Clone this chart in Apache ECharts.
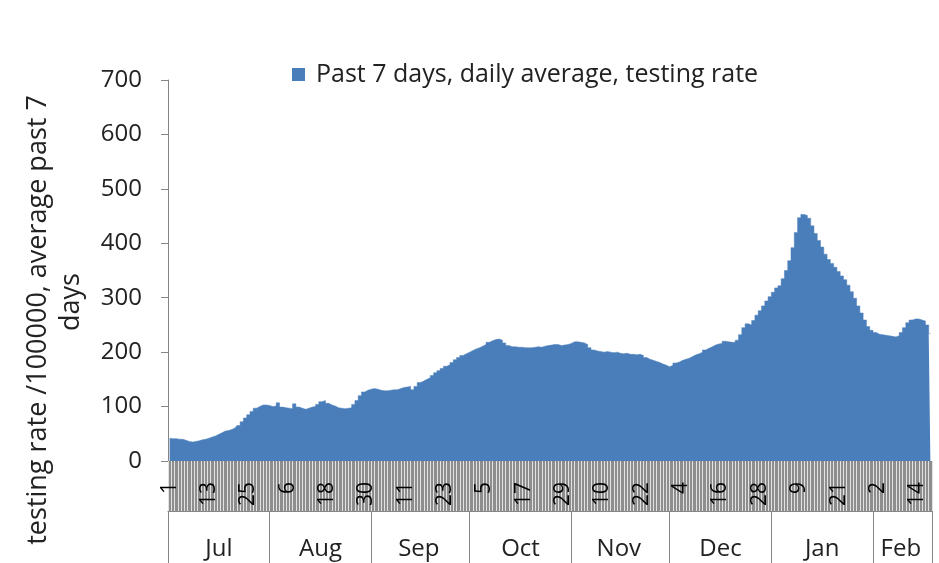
<!DOCTYPE html>
<html><head><meta charset="utf-8">
<script src="https://cdn.jsdelivr.net/npm/echarts@6/dist/echarts.min.js"></script>
<style>html,body{margin:0;padding:0;background:#fff}#c{width:939px;height:563px}</style>
</head><body><div id="c"></div>
<script>
// ---- data ----
const startDate = [2020, 6, 1]; // 1 Jul 2020 (year, monthIndex, day)
const monthNames = ['Jul','Aug','Sep','Oct','Nov','Dec','Jan','Feb'];
const yTicks = [0, 100, 200, 300, 400, 500, 600, 700];
const legendName = 'Past 7 days, daily average, testing rate';
const yTitle = ['testing rate /100000, average past 7', 'days'];
const testingRate = [
 42,41,41,40,40,38,36,35,36,37,
 39,40,42,44,46,49,52,55,56,58,
 61,65,72,79,85,91,97,100,103,103,
 102,100,101,107,99,98,97,96,105,99,
 97,95,97,99,100,104,109,111,106,103,
 101,98,97,96,97,98,104,111,120,127,
 130,132,133,132,130,129,129,130,131,131,
 133,135,136,137,131,137,144,147,150,153,
 157,162,166,170,174,177,181,186,190,194,
 197,200,203,206,208,211,214,218,221,223,
 224,222,217,212,210,210,209,209,208,208,
 208,209,210,209,211,212,213,214,214,212,
 213,214,216,219,219,218,217,214,208,204,
 202,201,200,201,200,199,200,198,197,198,
 196,196,195,196,194,190,187,185,183,181,
 178,176,173,176,180,182,185,187,189,192,
 195,197,200,204,207,210,213,215,216,220,
 219,218,218,222,232,245,252,250,258,268,
 276,285,294,302,310,318,322,335,350,368,
 392,420,447,453,451,446,432,418,405,393,
 380,370,363,356,348,340,333,323,311,299,
 285,272,259,247,240,236,233,232,231,230,
 229,228,230,236,245,254,259,261,261,259,
 257,250,234
];

// ---- categories (one per day) ----
const categories = [];
for (let i = 0; i < testingRate.length; i++) {
  const d = new Date(Date.UTC(startDate[0], startDate[1], startDate[2] + i));
  categories.push(d.toISOString().slice(0, 10));
}
// month start & middle indices
const monthStarts = [];
categories.forEach((c, i) => { if (i === 0 || c.slice(8) === '01') monthStarts.push(i); });
const midIdx = {};
monthStarts.forEach((s, k) => {
  const e = k + 1 < monthStarts.length ? monthStarts[k + 1] - 1 : categories.length - 1;
  midIdx[Math.floor((s + e) / 2)] = monthNames[k];
});

const FONT = 'Open Sans';
const chart = echarts.init(document.getElementById('c'));
const G = { left: 168, right: 7, top: 80, bottom: 102 };

chart.setOption({
  animation: false,
  backgroundColor: '#ffffff',
  textStyle: { fontFamily: FONT },
  grid: { left: G.left, right: G.right, top: G.top, bottom: G.bottom, containLabel: false },
  legend: {
    data: [{ name: legendName, icon: 'rect' }],
    left: 287, top: 57,
    itemWidth: 13, itemHeight: 13,
    textStyle: { fontFamily: FONT, fontSize: 25, color: '#222', padding: [0, 0, 0, 6] }
  },
  graphic: [
    { type: 'rect', z: -1, silent: true,
      shape: { x: G.left, y: 563 - G.bottom, width: 939 - G.left - G.right, height: 50 },
      style: { fill: '#8e8e8e' } },
    { type: 'text', silent: true, x: 38, y: 320, rotation: Math.PI / 2,
      style: { text: yTitle[0], fontFamily: FONT, fontSize: 27, fill: '#222', align: 'center', verticalAlign: 'middle' } },
    { type: 'text', silent: true, x: 71, y: 302, rotation: Math.PI / 2,
      style: { text: yTitle[1], fontFamily: FONT, fontSize: 27, fill: '#222', align: 'center', verticalAlign: 'middle' } }
  ],
  xAxis: [
    {
      type: 'category', data: categories, boundaryGap: true,
      axisLine: { show: true, lineStyle: { color: '#868686', width: 1 } },
      axisTick: { show: true, interval: 0, length: 50, lineStyle: { color: '#e2e2e2', width: 1 } },
      axisLabel: { interval: 11, rotate: 90, margin: 21, fontSize: 21, color: '#000', fontFamily: FONT,
        formatter: v => String(parseInt(v.slice(8), 10)) },
      splitLine: { show: false }
    },
    {
      type: 'category', data: categories, boundaryGap: true, position: 'bottom', offset: 50,
      axisLine: { show: true, lineStyle: { color: '#868686', width: 1 } },
      axisTick: { show: true, length: 53, lineStyle: { color: '#868686', width: 1 },
        interval: (i, v) => i === 0 || v.slice(8) === '01' },
      axisLabel: { margin: 26, fontSize: 24, color: '#222', fontFamily: FONT,
        interval: (i) => midIdx[i] !== undefined,
        formatter: (v, i) => midIdx[i] || '' },
      splitLine: { show: false }
    }
  ],
  yAxis: {
    type: 'value', min: yTicks[0], max: yTicks[yTicks.length - 1], interval: yTicks[1] - yTicks[0],
    axisLine: { show: true, lineStyle: { color: '#868686', width: 1 } },
    axisTick: { show: true, length: 7, lineStyle: { color: '#868686' } },
    axisLabel: { fontSize: 24, color: '#222', margin: 26, fontFamily: FONT },
    splitLine: { show: false }
  },
  series: [{
    name: legendName, type: 'line', xAxisIndex: 0, step: 'middle',
    data: testingRate, symbol: 'none', color: '#4a7ebb',
    lineStyle: { width: 0.5, color: '#4a7ebb' },
    areaStyle: { color: '#4a7ebb', opacity: 1 }
  }]
});
</script>
</body></html>
